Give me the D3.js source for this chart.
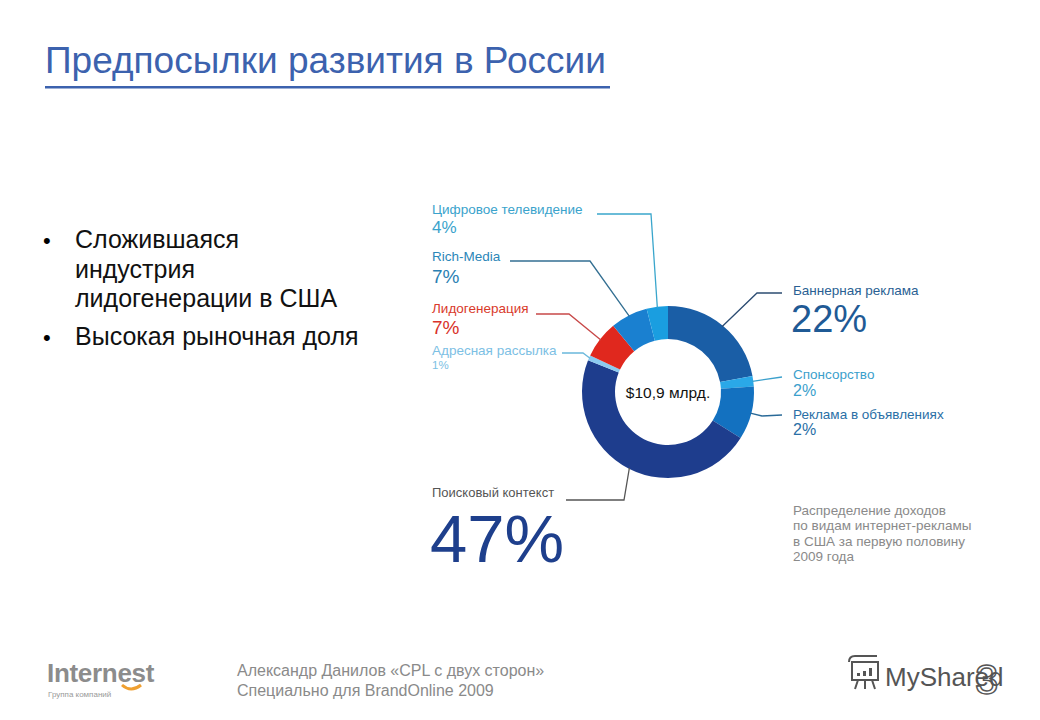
<!DOCTYPE html>
<html>
<head>
<meta charset="utf-8">
<script src="https://cdn.jsdelivr.net/npm/d3@7"></script>
<style>
  body { margin: 0; background: #fff; }
  svg { font-family: "Liberation Sans", Arial, sans-serif; display: block; }
</style>
</head>
<body>
<script>
// slices, clockwise from 12 o'clock
const categories = ["Баннерная реклама", "Спонсорство", "Реклама в объявлениях", "Поисковый контекст",
  "Адресная рассылка", "Лидогенерация", "Rich-Media", "Цифровое телевидение"];
const shares = [22, 2, 10, 47, 1, 7, 7, 4];
const shareLabels = ["22%", "2%", "2%", "47%", "1%", "7%", "7%", "4%"];
const bullets = [["Сложившаяся", "индустрия", "лидогенерации в США"], ["Высокая рыночная доля"]];
const caption = ["Распределение доходов", "по видам интернет-рекламы", "в США за первую половину", "2009 года"];
const footer = ["Александр Данилов «CPL с двух сторон»", "Специально для  BrandOnline 2009"];

const width = 1040, height = 720;
const cx = 668, cy = 392, outerR = 86, innerR = 53;

const sliceColors = ["#1a5ea6", "#2aa8e8", "#1371c0", "#1e3d8d", "#8ccaf0", "#e0281e", "#1a80d0", "#1a9ee0"];

// label placement (layout only)
const labelLayout = [
  { x: 793, nameY: 295, pctY: 332, nameSize: 13.5, pctSize: 38, nameColor: "#2a5f93", pctColor: "#1f5a95", line: "#2c4c72", pts: [[782, 293], [757, 293]] },
  { x: 793, nameY: 379, pctY: 396, nameSize: 13.5, pctSize: 16, nameColor: "#3ba0cc", pctColor: "#3ba0cc", line: "#3ba0cc", pts: [[782, 377]] },
  { x: 793, nameY: 419, pctY: 435, nameSize: 13.5, pctSize: 16, nameColor: "#2a6fa6", pctColor: "#2a6fa6", line: "#2a6a98", pts: [[782, 415], [762, 416]] },
  { x: 432, nameY: 497, pctY: 562, nameSize: 13, pctSize: 67, nameColor: "#555", pctColor: "#1e3f8c", line: "#555", pts: [[566, 500], [624, 500]] },
  { x: 432, nameY: 355, pctY: 369, nameSize: 13.5, pctSize: 11.5, nameColor: "#7cc0e4", pctColor: "#7cc0e4", line: "#6ab8dc", pts: [[562, 353], [583, 353]] },
  { x: 432, nameY: 313, pctY: 334, nameSize: 13.5, pctSize: 19, nameColor: "#d93a2b", pctColor: "#d9322a", line: "#c84848", pts: [[536, 314], [569, 314]] },
  { x: 432, nameY: 261, pctY: 283, nameSize: 13.5, pctSize: 19, nameColor: "#2b86b8", pctColor: "#2b7fb3", line: "#336f92", pts: [[510, 261], [590, 261]] },
  { x: 432, nameY: 214, pctY: 233, nameSize: 13.5, pctSize: 17, nameColor: "#3aa3cc", pctColor: "#3aa3cc", line: "#3aa6cc", pts: [[597, 214], [651, 214]] }
];

const svg = d3.select("body").append("svg")
  .attr("width", width)
  .attr("height", height);

// title
svg.append("text")
  .attr("x", 45).attr("y", 73)
  .attr("font-size", 37).attr("fill", "#3c62ae")
  .text("Предпосылки развития в России");
svg.append("rect")
  .attr("x", 45).attr("y", 86).attr("width", 565).attr("height", 2.5)
  .attr("fill", "#3c62ae");

// bullets
let by = 248;
bullets.forEach(lines => {
  svg.append("text").attr("x", 43).attr("y", by).attr("font-size", 22).text("•");
  lines.forEach(l => {
    svg.append("text").attr("x", 75).attr("y", by).attr("font-size", 25).attr("fill", "#111").text(l);
    by += 29.5;
  });
  by += 8;
});

// donut
const pie = d3.pie().sort(null).value(d => d)(shares);
const arc = d3.arc().innerRadius(innerR).outerRadius(outerR);

const g = svg.append("g").attr("transform", `translate(${cx},${cy})`);
g.selectAll("path")
  .data(pie)
  .join("path")
  .attr("d", arc)
  .attr("fill", (d, i) => sliceColors[i]);

g.append("text")
  .attr("text-anchor", "middle").attr("y", 6)
  .attr("font-size", 15.5).attr("fill", "#111")
  .text("$10,9 млрд.");

// leader lines + labels
const leader = d3.line();
pie.forEach((d, i) => {
  const L = labelLayout[i];
  const mid = (d.startAngle + d.endAngle) / 2;
  const r = outerR - 1;
  const end = [cx + r * Math.sin(mid), cy - r * Math.cos(mid)];
  svg.append("path")
    .attr("d", leader([...L.pts, end]))
    .attr("fill", "none")
    .attr("stroke", L.line)
    .attr("stroke-width", 1.3);

  svg.append("text")
    .attr("x", L.x).attr("y", L.nameY)
    .attr("font-size", L.nameSize).attr("fill", L.nameColor)
    .text(categories[i]);
  svg.append("text")
    .attr("x", L.x - (L.pctSize > 30 ? 2 : 0)).attr("y", L.pctY)
    .attr("font-size", L.pctSize).attr("fill", L.pctColor)
    .text(shareLabels[i]);
});

// caption
caption.forEach((t, i) => {
  svg.append("text")
    .attr("x", 793).attr("y", 515 + i * 15.3)
    .attr("font-size", 13.5).attr("fill", "#8a8a8a")
    .text(t);
});

// footer
footer.forEach((t, i) => {
  svg.append("text")
    .attr("x", 237).attr("y", 676 + i * 20)
    .attr("font-size", 16).attr("fill", "#8a8a8a")
    .text(t);
});

// Internest logo
svg.append("text")
  .attr("x", 47).attr("y", 682)
  .attr("font-size", 26).attr("font-weight", "bold").attr("fill", "#8c8c8c")
  .attr("letter-spacing", -0.3)
  .text("Internest");
svg.append("path")
  .attr("d", "M122,685 Q131,693 141,685")
  .attr("fill", "none").attr("stroke", "#f0a030").attr("stroke-width", 3);
svg.append("text")
  .attr("x", 48).attr("y", 697)
  .attr("font-size", 8).attr("fill", "#999")
  .text("Группа компаний");

// MyShared logo
const ms = svg.append("g").attr("stroke", "#555").attr("fill", "none").attr("stroke-width", 2);
ms.append("rect").attr("x", 852).attr("y", 662).attr("width", 26).attr("height", 18);
ms.append("path").attr("d", "M849,662 q0,-6 6,-6 h22 M858,680 l-3,9 M865,680 v9 M872,680 l3,9");
svg.append("g").attr("fill", "#555")
  .selectAll("rect").data([3, 5, 8]).join("rect")
  .attr("x", (d, i) => 857 + i * 6).attr("y", d => 676 - d).attr("width", 3).attr("height", d => d);
svg.append("text")
  .attr("x", 885).attr("y", 686)
  .attr("font-size", 26).attr("fill", "#555")
  .text("MyShared");
svg.append("text")
  .attr("x", 975).attr("y", 694)
  .attr("font-size", 42).attr("fill", "none").attr("stroke", "#555").attr("stroke-width", 1.5)
  .text("3");
</script>
</body>
</html>
